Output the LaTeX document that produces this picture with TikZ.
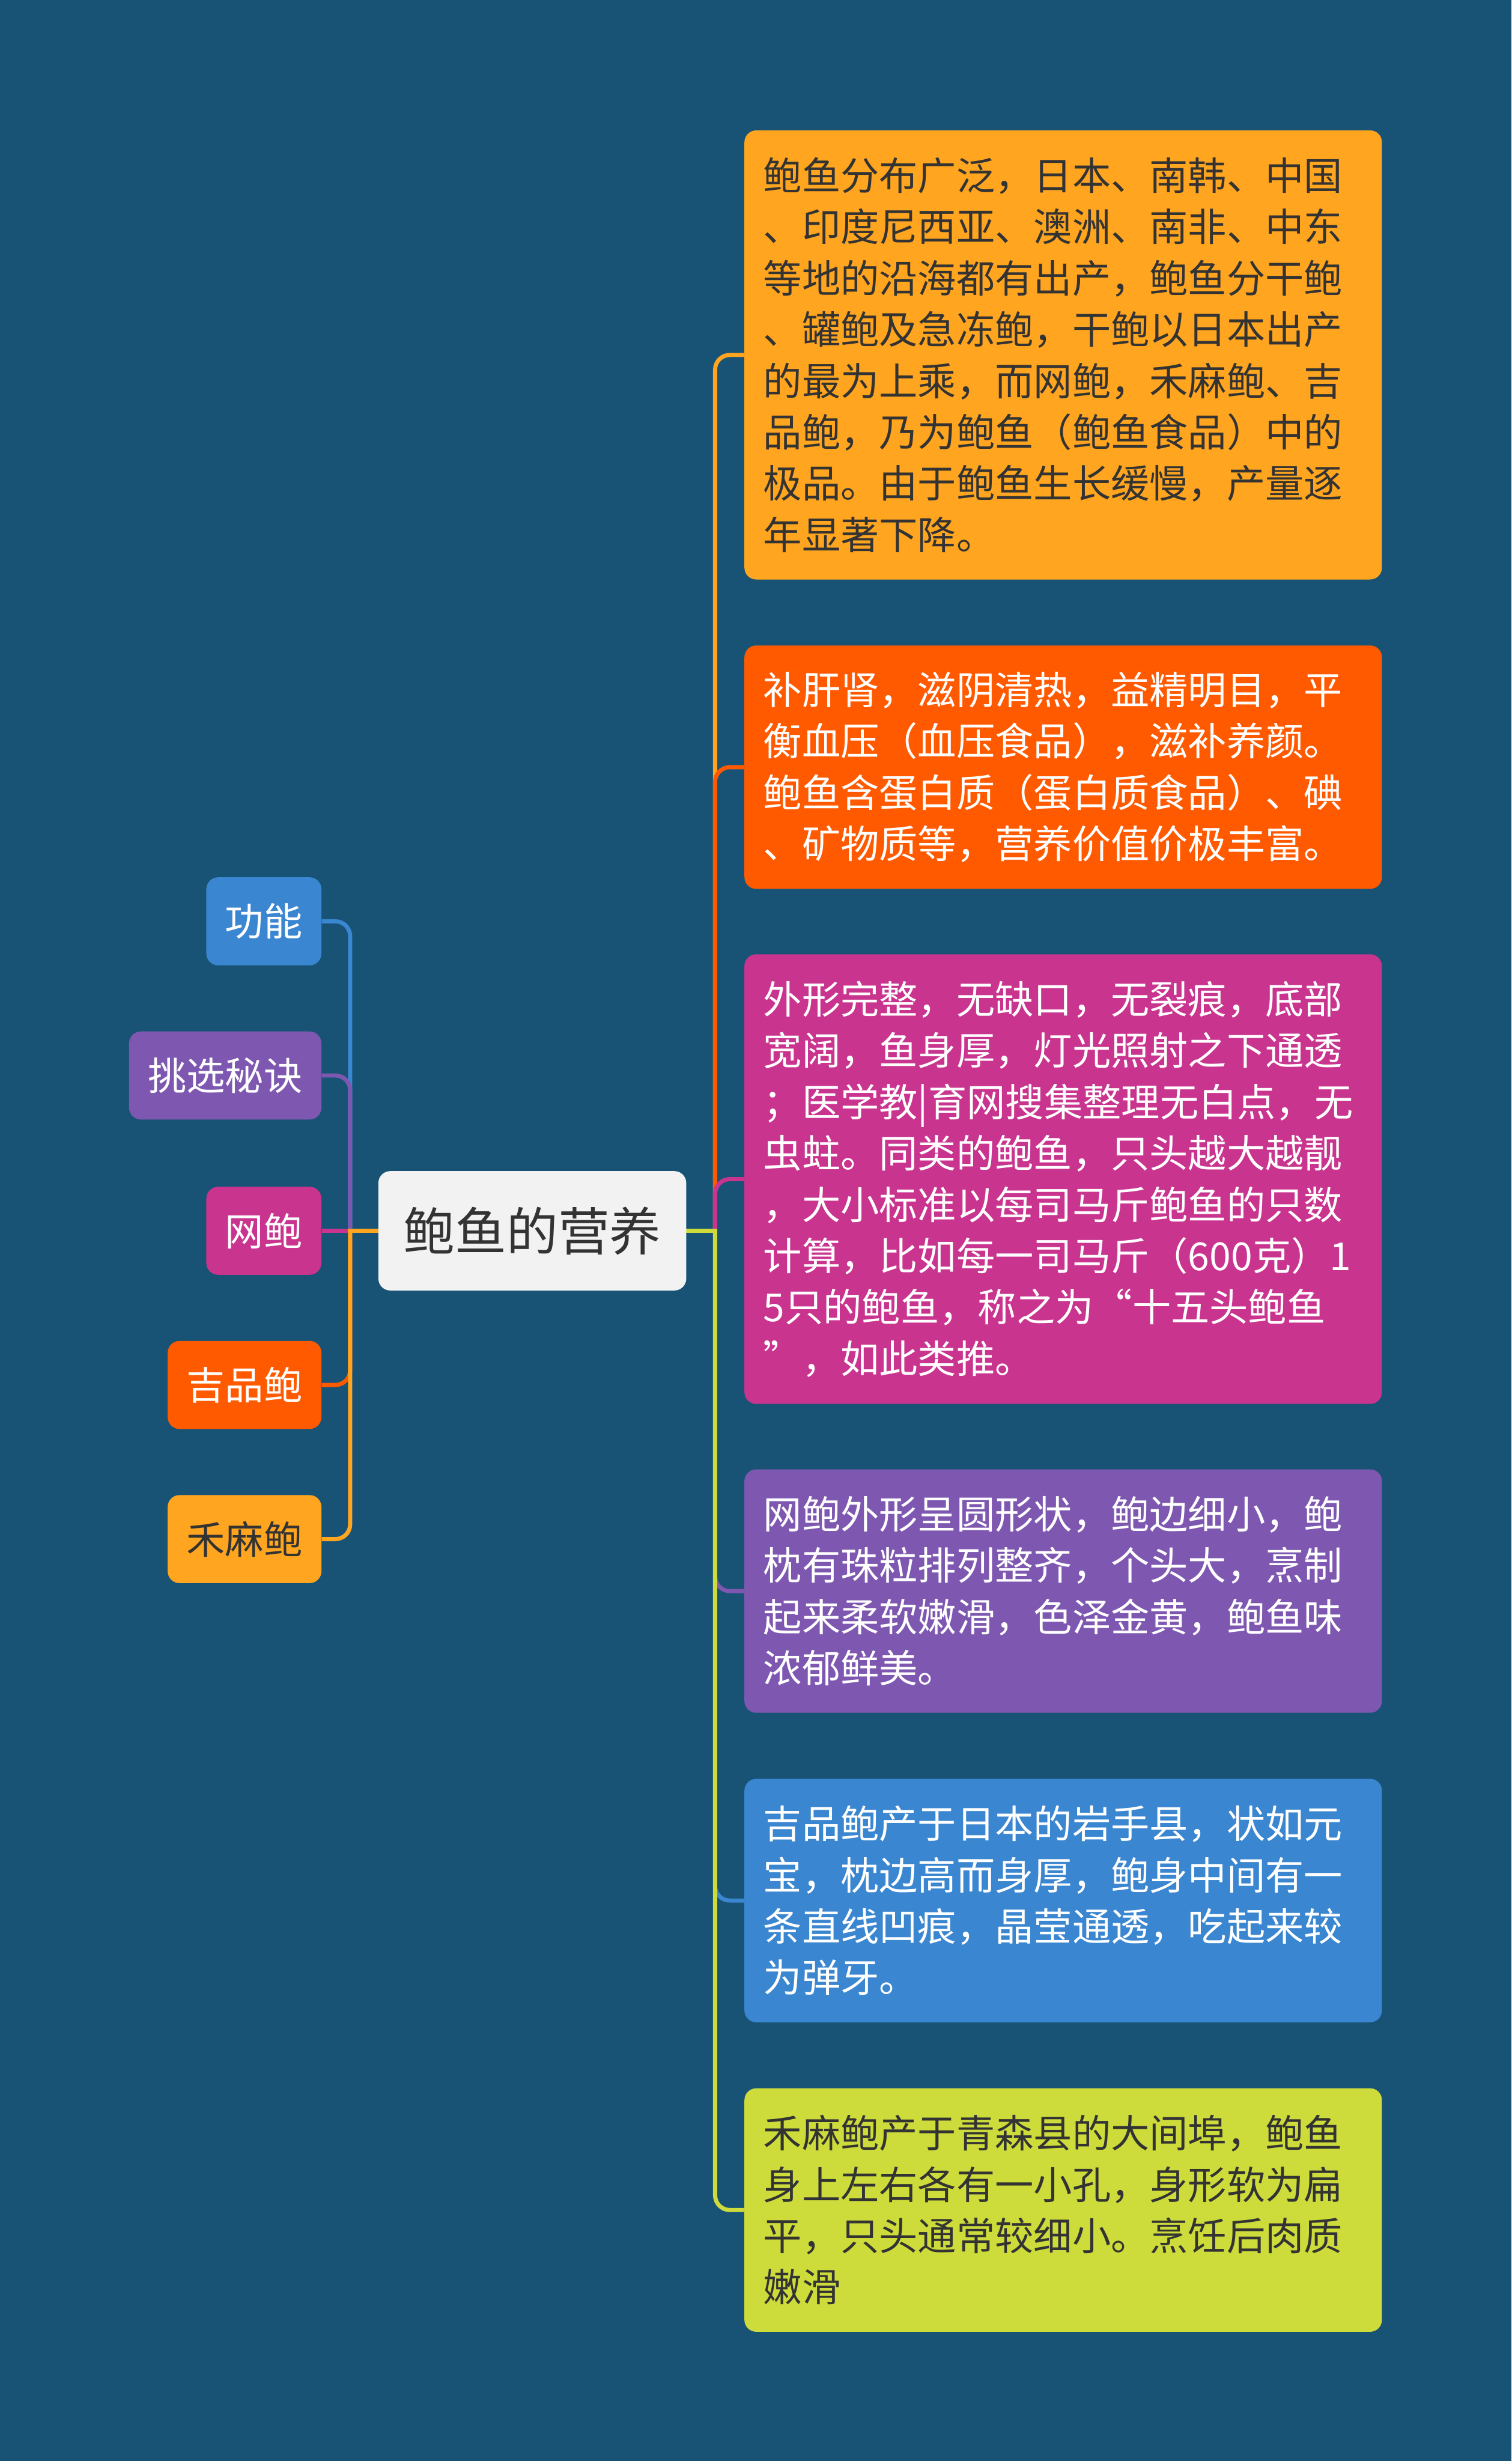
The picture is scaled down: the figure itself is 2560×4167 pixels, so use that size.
\documentclass[tikz,border=0pt]{standalone}
\usepackage{fontspec}
\setmainfont{Noto Sans CJK SC}
\definecolor{bgc}{HTML}{185376}
\definecolor{corange}{HTML}{FFA51F}
\definecolor{cred}{HTML}{FF5A00}
\definecolor{cmag}{HTML}{C9348F}
\definecolor{cpur}{HTML}{7E58B0}
\definecolor{cblue}{HTML}{3A86D0}
\definecolor{clime}{HTML}{CDDC3A}
\definecolor{ccenter}{HTML}{F2F2F2}
\definecolor{dtext}{HTML}{333333}
\pgfdeclarelayer{back}
\pgfdeclarelayer{links}
\pgfsetlayers{back,links,main}
\begin{document}
\begin{tikzpicture}[x=0.01cm,y=-0.01cm,
  conn/.style={line width=0.07cm},
  elbowline/.style={conn,rounded corners=0.25cm},
  rbox/.style={rounded corners=0.2cm, anchor=west, text width=10.15cm,
    inner xsep=0.32cm, inner ysep=0cm, align=left,
    font=\fontsize{18.6pt}{24.7pt}\selectfont, minimum height=4.12cm},
  lbox/.style={rounded corners=0.2cm, anchor=east, inner xsep=0.32cm,
    inner ysep=0cm, minimum height=1.49cm,
    font=\fontsize{18.6pt}{24.7pt}\selectfont},
  rootbox/.style={rounded corners=0.2cm, fill=ccenter, text=dtext,
    minimum width=5.21cm, minimum height=2.02cm, inner sep=0cm,
    font=\fontsize{24.8pt}{30pt}\selectfont}
]
\begin{pgfonlayer}{back}
\fill[bgc] (0,0) rectangle (2560,4167);
\end{pgfonlayer}

% root
\node[rootbox] (root) at (901.5,2084) {鲍鱼的营养};

% left nodes
\node[lbox, fill=cblue, text=white] (l1) at (545,1560) {功能};
\node[lbox, fill=cpur, text=white] (l2) at (545,1821) {挑选秘诀};
\node[lbox, fill=cmag, text=white] (l3) at (545,2084) {网鲍};
\node[lbox, fill=cred, text=white] (l4) at (545,2345) {吉品鲍};
\node[lbox, fill=corange, text=dtext] (l5) at (545,2606) {禾麻鲍};

% right boxes
\node[rbox, fill=corange, text=dtext, minimum height=7.60cm] (b1) at (1260,601) {鲍鱼分布广泛，日本、南韩、中国\\、印度尼西亚、澳洲、南非、中东\\等地的沿海都有出产，鲍鱼分干鲍\\、罐鲍及急冻鲍，干鲍以日本出产\\的最为上乘，而网鲍，禾麻鲍、吉\\品鲍，乃为鲍鱼（鲍鱼食品）中的\\极品。由于鲍鱼生长缓慢，产量逐\\年显著下降。};
\node[rbox, fill=cred, text=white] (b2) at (1260,1299) {补肝肾，滋阴清热，益精明目，平\\衡血压（血压食品），滋补养颜。\\鲍鱼含蛋白质（蛋白质食品）、碘\\、矿物质等，营养价值价极丰富。};
\node[rbox, fill=cmag, text=white, minimum height=7.61cm] (b3) at (1260,1996.5) {外形完整，无缺口，无裂痕，底部\\宽阔，鱼身厚，灯光照射之下通透\\；医学教|育网搜集整理无白点，无\\虫蛀。同类的鲍鱼，只头越大越靓\\，大小标准以每司马斤鲍鱼的只数\\计算，比如每一司马斤（600克）1\\5只的鲍鱼，称之为“十五头鲍鱼\\”，如此类推。};
\node[rbox, fill=cpur, text=white] (b4) at (1260,2694) {网鲍外形呈圆形状，鲍边细小，鲍\\枕有珠粒排列整齐，个头大，烹制\\起来柔软嫩滑，色泽金黄，鲍鱼味\\浓郁鲜美。};
\node[rbox, fill=cblue, text=white] (b5) at (1260,3218) {吉品鲍产于日本的岩手县，状如元\\宝，枕边高而身厚，鲍身中间有一\\条直线凹痕，晶莹通透，吃起来较\\为弹牙。};
\node[rbox, fill=clime, text=dtext] (b6) at (1260,3742) {禾麻鲍产于青森县的大间埠，鲍鱼\\身上左右各有一小孔，身形软为扁\\平，只头通常较细小。烹饪后肉质\\嫩滑};

\coordinate (rj) at (1211,2084);
\coordinate (lj) at (593,2084);

\begin{pgfonlayer}{links}
% right connectors
\draw[elbowline, corange] (rj) |- (b1.west);
\draw[elbowline, cred] (rj) |- (b2.west);
\draw[elbowline, cmag] (rj) |- (b3.west);
\draw[elbowline, cpur] (rj) |- (b4.west);
\draw[elbowline, cblue] (rj) |- (b5.west);
\draw[elbowline, clime] (rj) |- (b6.west);
\draw[conn, clime, line cap=rect] (root.east) -- (rj);
% left connectors
\draw[elbowline, cblue] (lj) |- (l1.east);
\draw[elbowline, cpur] (lj) |- (l2.east);
\draw[conn, cmag] (lj) -- (l3.east);
\draw[elbowline, cred] (lj) |- (l4.east);
\draw[elbowline, corange] (lj) |- (l5.east);
\draw[conn, corange, line cap=rect] (root.west) -- (lj);
\end{pgfonlayer}
\end{tikzpicture}
\end{document}
